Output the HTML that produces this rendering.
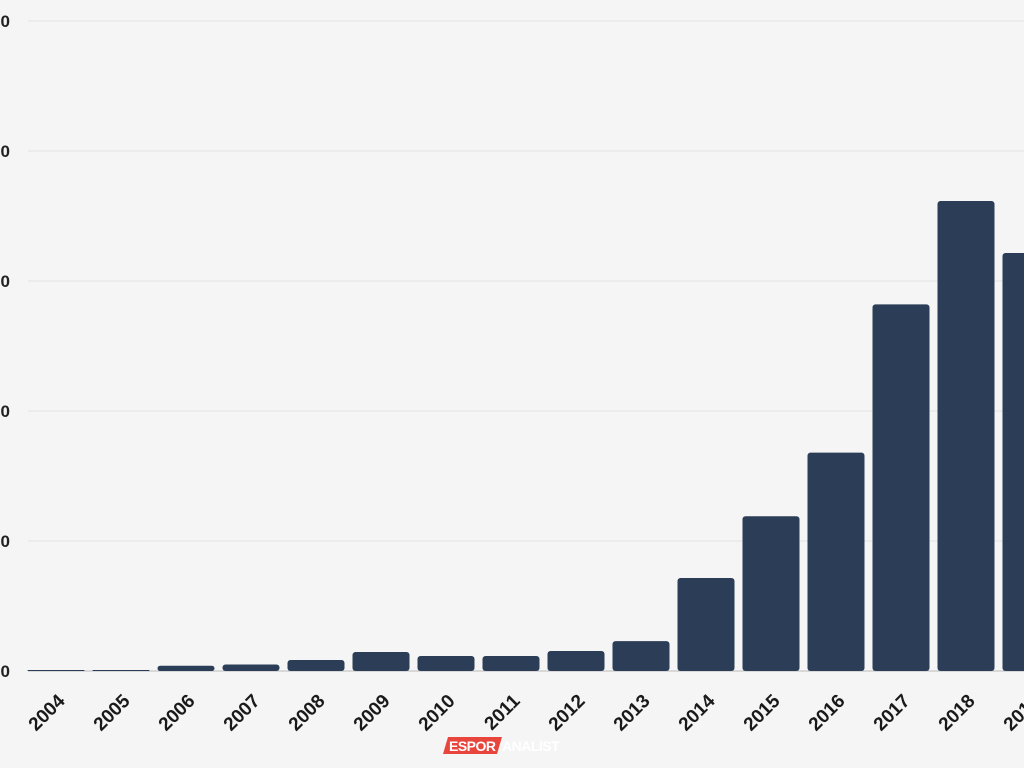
<!DOCTYPE html>
<html><head><meta charset="utf-8"><style>
html,body{margin:0;padding:0;background:#f5f5f5;}
svg{display:block;font-family:"Liberation Sans",sans-serif;}
</style></head><body>
<svg id="chart" width="1024" height="768" viewBox="0 0 1024 768">
<rect width="1024" height="768" fill="#f5f5f5"/>
<g id="grid"></g><g id="bars"></g><g id="xlabels"></g>
<g>
<polygon points="448,737 502,737 497,754 443,754" fill="#e8453c"/>
<text x="449" y="751" font-size="14" font-weight="bold" fill="#fff" letter-spacing="-0.5">ESPOR</text>
<text x="502" y="751" font-size="14" font-weight="bold" fill="#fff" letter-spacing="-0.5">ANALIST</text>
</g>
</svg>
<script>
const categories=["2004","2005","2006","2007","2008","2009","2010","2011","2012","2013","2014","2015","2016","2017","2018","2019"];
const values=[0.5,0.3,4,5,8.5,14.6,11.5,11.5,15.4,23,71.5,119,168,282,361.5,321.5];
const yTicks=[0,100,200,300,400,500];
const yTickLabels=["0","100","200","300","400","500"];
const NS="http://www.w3.org/2000/svg";
const base=671, unit=1.3, x0=56, pitch=65, bw=57;
const y=v=>base-v*unit;
const xc=i=>x0+i*pitch;
function mk(t,a,p){const e=document.createElementNS(NS,t);for(const k in a)e.setAttribute(k,a[k]);p.appendChild(e);return e;}
const grid=document.getElementById('grid'),bars=document.getElementById('bars'),xl=document.getElementById('xlabels');
yTicks.forEach((t,i)=>{
 const l=mk('line',{x1:28,x2:1024,y1:y(t),y2:y(t),stroke:t===0?'#bbb':'#e2e2e2','stroke-width':1},grid);
 
 
 const tx=mk('text',{x:10,y:y(t)+6,'text-anchor':'end','font-size':17,'font-weight':'bold',fill:'#222'},grid);
 tx.textContent=yTickLabels[i];
 
 
});
categories.forEach((c,i)=>{
 const h=Math.max(values[i]*unit,1);
 const r=mk('rect',{x:xc(i)-bw/2,y:base-h,width:bw,height:h,rx:Math.min(3,h/2),fill:'#2c3e57'},bars);
 
 
 const tx=xc(i)+10, ty=702;
 const t=mk('text',{x:tx,y:ty,'text-anchor':'end','font-size':19,'font-weight':'bold',fill:'#1a1a1a',transform:`rotate(-45 ${tx} ${ty})`},xl);
 t.textContent=c;
 
 
});
</script>
</body></html>
